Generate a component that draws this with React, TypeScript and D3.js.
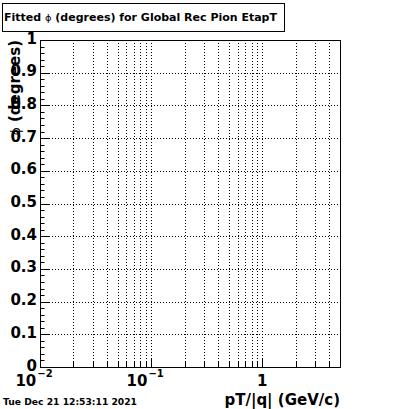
import React from "react";
import * as d3 from "d3";

// axis ranges and tick values
const xDomain = [0.01, 5];
const yDomain = [0, 1];
const yMajor = [0, 0.1, 0.2, 0.3, 0.4, 0.5, 0.6, 0.7, 0.8, 0.9, 1];
const yTickLabels = ["0", "0.1", "0.2", "0.3", "0.4", "0.5", "0.6", "0.7", "0.8", "0.9", "1"];
const xMajor = [0.01, 0.1, 1];
const xTickBase = ["10", "10", "1"];
const xTickExp = ["\u22122", "\u22121", ""];
const decades = [0.01, 0.1, 1];
const multipliers = [2, 3, 4, 5, 6, 7, 8, 9];

const phi = "\u03d5";
const titleA = "Fitted ";
const titleB = " (degrees) for Global Rec Pion EtapT";
const xTitle = "pT/|q| (GeV/c)";
const yTitle = " (degrees)";
const dateText = "Tue Dec 21 12:53:11 2021";

const App = () => {
  const width = 400;
  const height = 409;
  const margin = { top: 40, right: 60, bottom: 42, left: 40 };
  const plotRight = width - margin.right;
  const plotBottom = height - margin.bottom;

  const x = d3.scaleLog().domain(xDomain).range([margin.left, plotRight]);
  const y = d3.scaleLinear().domain(yDomain).range([plotBottom, margin.top]);

  // minor x ticks: 2..9 in each decade, inside the domain
  const xMinor: number[] = [];
  decades.forEach((d) => {
    multipliers.forEach((m) => {
      const v = d * m;
      if (v < xDomain[1]) xMinor.push(v);
    });
  });
  const xGrid = [...xMajor, ...xMinor].filter((v) => v > xDomain[0]);

  const yMinor = d3.range(0, 51).map((i) => i / 50);

  const font = "'DejaVu Sans', sans-serif";

  return (
    <svg width={width} height={height} style={{ position: "absolute", left: 0, top: 0, background: "white" }}>
      <rect x={0} y={0} width={width} height={height} fill="white" />

      {/* grid */}
      <g stroke="black" strokeWidth={1} strokeDasharray="1,2">
        {xGrid.map((v, i) => (
          <line key={"gx" + i} x1={Math.round(x(v)) + 0.5} x2={Math.round(x(v)) + 0.5} y1={margin.top} y2={plotBottom} />
        ))}
        {yMajor.slice(1, -1).map((v, i) => (
          <line key={"gy" + i} x1={margin.left} x2={plotRight} y1={Math.round(y(v)) + 0.5} y2={Math.round(y(v)) + 0.5} />
        ))}
      </g>

      {/* frame */}
      <rect x={margin.left + 0.5} y={margin.top + 0.5} width={plotRight - margin.left} height={plotBottom - margin.top} fill="none" stroke="black" />

      {/* ticks */}
      <g stroke="black">
        {yMinor.map((v, i) => {
          const yy = Math.round(y(v)) + 0.5;
          const len = i % 5 === 0 ? 9 : 4.5;
          return <line key={"ty" + i} x1={margin.left} x2={margin.left + len} y1={yy} y2={yy} />;
        })}
        {xGrid.map((v, i) => {
          const xx = Math.round(x(v)) + 0.5;
          const len = xMajor.includes(v) ? 9 : 5;
          return <line key={"tx" + i} x1={xx} x2={xx} y1={plotBottom} y2={plotBottom - len} />;
        })}
      </g>

      {/* y tick labels */}
      <g fontFamily={font} fontWeight="bold" fontSize={15} textAnchor="end">
        {yMajor.map((v, i) => (
          <text key={"ly" + i} x={margin.left - 3} y={y(v) + 3.5}>
            {yTickLabels[i]}
          </text>
        ))}
      </g>

      {/* x tick labels */}
      <g fontFamily={font} fontWeight="bold" fontSize={15}>
        {xMajor.map((v, i) => (
          <text key={"lx" + i} x={x(v) + (xTickExp[i] ? -6 : 0)} y={plotBottom + 19} textAnchor="middle">
            {xTickBase[i]}
            {xTickExp[i] && (
              <tspan fontSize={10} dx={1} dy={-9}>
                {xTickExp[i]}
              </tspan>
            )}
          </text>
        ))}
      </g>

      {/* axis titles */}
      <text x={plotRight} y={405} textAnchor="end" fontFamily={font} fontWeight="bold" fontSize={15}>
        {xTitle}
      </text>
      <text
        transform={`translate(20, ${margin.top}) rotate(-90)`}
        textAnchor="end"
        fontFamily={font}
        fontWeight="bold"
        fontSize={15}
      >
        <tspan fontWeight="normal" fontSize={12}>{phi}</tspan>
        {yTitle}
      </text>

      {/* title box */}
      <rect x={2.5} y={3.5} width={282} height={28} fill="white" stroke="black" />
      <text x={4} y={21} fontFamily={font} fontWeight="bold" fontSize={10} textLength={273} lengthAdjust="spacingAndGlyphs">
        {titleA}
        <tspan fontWeight="normal" fontSize={9}>{phi}</tspan>
        {titleB}
      </text>

      {/* date */}
      <text x={3} y={405} fontFamily={font} fontWeight="bold" fontSize={8.5} textLength={134} lengthAdjust="spacingAndGlyphs">
        {dateText}
      </text>
    </svg>
  );
};

export default App;
